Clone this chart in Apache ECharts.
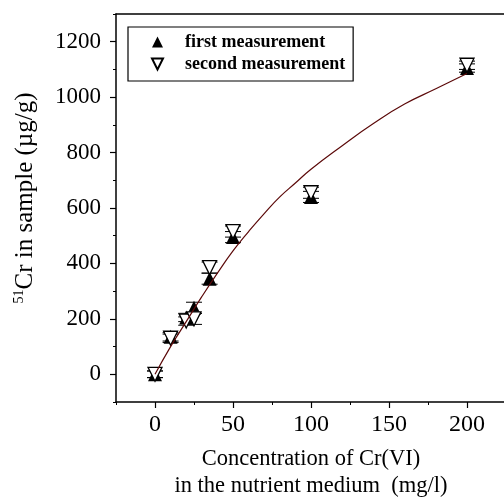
<!DOCTYPE html>
<html><head><meta charset="utf-8">
<script src="https://cdn.jsdelivr.net/npm/echarts@6/dist/echarts.min.js"></script>
<style>html,body{margin:0;padding:0;background:#fff}#c{width:504px;height:498px}</style>
</head><body><div id="c"></div>
<script>
// ---- data ----
var concentrations = [0, 10, 20, 25, 35, 50, 100, 200];
var firstMeasurement = [0, 135, 205, 240, 345, 495, 640, 1105];
var firstError = [12, 15, 15, 20, 20, 20, 20, 15];
var secondMeasurement = [0, 130, 192, 200, 385, 515, 655, 1115];
var secondError = [12, 15, 15, 20, 20, 20, 20, 15];
var fitX = [0, 10, 20, 30, 40, 50, 60, 70, 80, 90, 100, 120, 140, 160, 180, 200];
var fitY = [0, 100, 190, 280, 365, 445, 515, 580, 640, 690, 740, 825, 905, 975, 1030, 1085];
var xTickLabels = [0, 50, 100, 150, 200];
var yTickLabels = [0, 200, 400, 600, 800, 1000, 1200];

var FONT = 'Liberation Serif';
function zip(xs, ys, es) { return xs.map(function (x, i) { return es ? [x, ys[i], es[i]] : [x, ys[i]]; }); }
function plain(v) { return String(v); }
function errRender(params, api) {
  var x = api.value(0), y = api.value(1), e = api.value(2);
  var top = api.coord([x, y + e]), bot = api.coord([x, y - e]);
  var h = 8;
  var st = { stroke: '#000', lineWidth: 1 };
  return { type: 'group', children: [
    { type: 'line', shape: { x1: top[0], y1: top[1], x2: bot[0], y2: bot[1] }, style: st },
    { type: 'line', shape: { x1: top[0] - h, y1: top[1], x2: top[0] + h, y2: top[1] }, style: st },
    { type: 'line', shape: { x1: bot[0] - h, y1: bot[1], x2: bot[0] + h, y2: bot[1] }, style: st }
  ]};
}
var chart = echarts.init(document.getElementById('c'), null, { renderer: 'canvas' });
var axisLine = { show: true, onZero: false, lineStyle: { color: '#000', width: 1.5 } };
var noLine = { show: false, onZero: false };
chart.setOption({
  animation: false,
  grid: { left: 116, top: 14, width: 390, height: 388, containLabel: false, outerBoundsMode: 'none' },
  xAxis: [
    { type: 'value', min: -25, max: 225, position: 'bottom', axisLine: axisLine, splitLine: { show: false },
      axisTick: { show: true, length: 6, inside: false, customValues: xTickLabels, lineStyle: { color: '#000', width: 1.2 } },
      axisLabel: { customValues: xTickLabels, formatter: plain, margin: 11, fontFamily: FONT, fontSize: 24, color: '#000' },
      name: 'Concentration of Cr(VI)\nin the nutrient medium  (mg/l)', nameLocation: 'middle', nameGap: 44,
      nameTextStyle: { fontFamily: FONT, fontSize: 22.5, color: '#000', lineHeight: 27 } },
    { type: 'value', min: -25, max: 225, interval: 25, position: 'bottom', axisLine: noLine, splitLine: { show: false },
      axisTick: { show: true, length: 3, lineStyle: { color: '#000', width: 1 } }, axisLabel: { show: false } },
    { type: 'value', min: -25, max: 225, position: 'top', axisLine: axisLine, splitLine: { show: false },
      axisTick: { show: false }, axisLabel: { show: false } }
  ],
  yAxis: [
    { type: 'value', min: -100, max: 1300, position: 'left', axisLine: axisLine, splitLine: { show: false },
      axisTick: { show: true, length: 6, customValues: yTickLabels, lineStyle: { color: '#000', width: 1.2 } },
      axisLabel: { customValues: yTickLabels, formatter: plain, margin: 15, fontFamily: FONT, fontSize: 23, color: '#000' },
      name: '{sup|51}{n|Cr in sample (µg/g)}', nameLocation: 'middle', nameGap: 77, nameRotate: 90,
      nameTextStyle: { fontFamily: FONT, fontSize: 25, color: '#000', padding: [0, 0, 0, 20],
        rich: { sup: { fontFamily: FONT, fontSize: 14, color: '#000', verticalAlign: 'top', lineHeight: 27 },
                n: { fontFamily: FONT, fontSize: 25, color: '#000', lineHeight: 27 } } } },
    { type: 'value', min: -100, max: 1300, interval: 100, position: 'left', axisLine: noLine, splitLine: { show: false },
      axisTick: { show: true, length: 3, lineStyle: { color: '#000', width: 1 } }, axisLabel: { show: false } }
  ],
  legend: {
    orient: 'vertical', left: 128, top: 27, padding: [5, 8, 7, 23], itemGap: 2, itemWidth: 11, itemHeight: 11,
    borderColor: '#000', borderWidth: 1.2, borderRadius: 0,
    textStyle: { fontFamily: FONT, fontWeight: 'bold', fontSize: 18, color: '#000', padding: [0, 0, 0, 17], lineHeight: 20 },
    data: [
      { name: 'first measurement', icon: 'path://M5,0L10,10L0,10Z' },
      { name: 'second measurement', icon: 'path://M0,0L10,0L5,10Z' }
    ]
  },
  series: [
    { type: 'custom', name: 'err1', renderItem: errRender, data: zip(concentrations, firstMeasurement, firstError), z: 1, silent: true },
    { type: 'custom', name: 'err2', renderItem: errRender, data: zip(concentrations, secondMeasurement, secondError), z: 1, silent: true },
    { type: 'scatter', name: 'first measurement', symbol: 'triangle', symbolSize: 14, z: 2,
      itemStyle: { color: '#000', opacity: 1 }, data: zip(concentrations, firstMeasurement) },
    { type: 'scatter', name: 'second measurement', symbol: 'triangle', symbolRotate: 180, symbolSize: 14, z: 3,
      itemStyle: { color: '#fff', borderColor: '#000', borderWidth: 1.3, opacity: 1 }, data: zip(concentrations, secondMeasurement) },
    { type: 'line', name: 'fit', data: zip(fitX, fitY), smooth: true, showSymbol: false, z: 4,
      lineStyle: { color: '#5c0a0a', width: 1.2 }, silent: true }
  ]
});
</script></body></html>
